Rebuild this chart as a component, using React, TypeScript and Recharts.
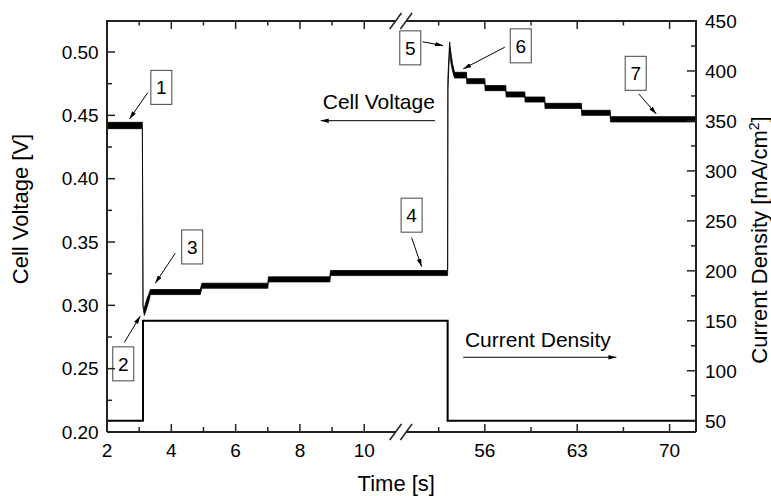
import React from 'react';
import { ComposedChart, Line, Area, XAxis, YAxis, ReferenceLine, ReferenceDot } from 'recharts';

const FONT = '"Liberation Sans", Arial, Helvetica, sans-serif';
const INK = '#000';
const AXIS = '#222';

// layout of the plotting frame (pixels)
const CHART_W = 771;
const CHART_H = 496;
const FRAME_TOP = 21;
const FRAME_LEFT_W = 107;
const FRAME_RIGHT_W = 75;
const FRAME_BOTTOM_H = 64;
const PLOT_H = CHART_H - FRAME_TOP - FRAME_BOTTOM_H;
const PLOT_W = CHART_W - FRAME_LEFT_W - FRAME_RIGHT_W;

// ---- broken time axis -------------------------------------------------
const BREAK_LEFT_END = 11.14;     // last time of the first segment
const BREAK_RIGHT_START = 49.64;  // first time of the second segment
const RIGHT_COMPRESSION = 0.4104; // second segment is drawn compressed
const toU = (t: number) =>
  t <= BREAK_LEFT_END ? t : BREAK_LEFT_END + (t - BREAK_RIGHT_START) * RIGHT_COMPRESSION;

const timeDomain = [2, 72];
const timeMajorLeft = [2, 4, 6, 8, 10];
const timeMinorLeft = [3, 5, 7, 9];
const timeMajorRight = [56, 63, 70];
const timeMinorRight = [52.5, 59.5, 66.5];

const voltageDomain = [0.2, 0.5245];
const voltageMajor = [0.2, 0.25, 0.3, 0.35, 0.4, 0.45, 0.5];
const voltageMinor = [0.225, 0.275, 0.325, 0.375, 0.425, 0.475];

const currentDomain = [38.7, 450];
const currentMajor = [50, 100, 150, 200, 250, 300, 350, 400, 450];
const currentMinor = [75, 125, 175, 225, 275, 325, 375, 425];

// ---- cell voltage envelope (time, min, max) ---------------------------
const voltTime = [2.0, 3.10, 3.12, 3.16, 3.24, 3.30, 3.35, 4.90, 4.95, 7.00, 7.02, 8.93, 8.95,
  53.16, 53.18, 53.20, 53.33, 53.42, 53.55, 53.70, 54.61, 54.63, 56.0, 56.02, 57.59, 57.61,
  59.03, 59.05, 60.54, 60.56, 63.32, 63.34, 65.5, 65.52, 72.0];
const voltMin = [0.4395, 0.4395, 0.299, 0.292, 0.298, 0.303, 0.3085, 0.3085, 0.3135, 0.3135, 0.3185, 0.3185, 0.3235,
  0.3235, 0.325, 0.47, 0.503, 0.492, 0.485, 0.4795, 0.4795, 0.475, 0.475, 0.4695, 0.4695, 0.4645,
  0.4645, 0.4605, 0.4605, 0.4555, 0.4555, 0.45, 0.45, 0.4448, 0.4448];
const voltMax = [0.4445, 0.4445, 0.299, 0.298, 0.305, 0.309, 0.3125, 0.3125, 0.3175, 0.3175, 0.3225, 0.3225, 0.3275,
  0.3275, 0.330, 0.48, 0.508, 0.500, 0.491, 0.484, 0.484, 0.479, 0.479, 0.4735, 0.4735, 0.4685,
  0.4685, 0.4645, 0.4645, 0.4595, 0.4595, 0.454, 0.454, 0.449, 0.449];

// ---- current density --------------------------------------------------
const currTime = [2, 3.12, 3.12, 53.18, 53.18, 72];
const currValue = [50, 50, 150, 150, 50, 50];

// ---- numbered annotations (box centre + arrow), in time / voltage -----
const boxLabels = ['1', '2', '3', '4', '5', '6', '7'];
const boxTime = [3.69, 2.506, 4.65, 50.45, 50.35, 58.72, 67.43];
const boxVolt = [0.4721, 0.2538, 0.3461, 0.3712, 0.5033, 0.5049, 0.4832];
const arrowFromTime = [3.26, 2.537, 4.121, 50.45, 51.28, 57.51, 67.67];
const arrowFromVolt = [0.4677, 0.2707, 0.3411, 0.3535, 0.5081, 0.5038, 0.4669];
const arrowToTime = [2.70, 3.034, 3.5, 51.21, 52.84, 54.36, 68.99];
const arrowToVolt = [0.4471, 0.2915, 0.3174, 0.3305, 0.5051, 0.4867, 0.4511];

const seriesLabels = ['Cell Voltage', 'Current Density'];
const seriesLabelTime = [8.71, 54.49];
const seriesLabelVolt = [0.4553, 0.2675];
const seriesArrowFromTime = [52.22, 54.36];
const seriesArrowToTime = [8.646, 65.97];
const seriesArrowVolt = [0.4458, 0.2590];

// ---- derived tables -----------------------------------------------------
const voltageData = voltTime.map((t, i) => ({ u: toU(t), band: [voltMin[i], voltMax[i]] }));
const currentData = currTime.map((t, i) => ({ u: toU(t), j: currValue[i] }));

const U_MIN = toU(timeDomain[0]);
const U_MAX = toU(timeDomain[1]);
const PX_PER_U = PLOT_W / (U_MAX - U_MIN);

const BREAK_U = BREAK_LEFT_END;
const timeTicksU = [
  ...timeMajorLeft, ...timeMinorLeft, ...timeMajorRight, ...timeMinorRight,
].map(toU).concat([BREAK_U]).sort((a, b) => a - b);

const near = (a: number, b: number) => Math.abs(a - b) < 1e-6;
function timeTickInfo(u: number) {
  if (near(u, BREAK_U)) return { brk: true, major: false, label: '' };
  for (const t of [...timeMajorLeft, ...timeMajorRight]) if (near(toU(t), u)) return { brk: false, major: true, label: String(t) };
  return { brk: false, major: false, label: '' };
}
const isMajorV = (v: number) => voltageMajor.some((m) => near(m, v));
const isMajorC = (v: number) => currentMajor.some((m) => near(m, v));

// ---- tick renderers -------------------------------------------------------
function BreakMark({ x, y }: { x: number; y: number }) {
  const h = 8, w = 5.85, off = 5.3;
  return (
    <g>
      <polygon
        points={`${x - off - w},${y + h} ${x - off + w},${y - h} ${x + off + w},${y - h} ${x + off - w},${y + h}`}
        fill="#fff"
      />
      <line x1={x - off - w} y1={y + h} x2={x - off + w} y2={y - h} stroke={AXIS} strokeWidth={1.5} />
      <line x1={x + off - w} y1={y + h} x2={x + off + w} y2={y - h} stroke={AXIS} strokeWidth={1.5} />
    </g>
  );
}

// top frame (line + inward ticks), positioned relative to the break tick of the bottom axis
function TopFrame({ xBreak, y }: { xBreak: number; y: number }) {
  const off = 5.3;
  const xLeft = xBreak - (BREAK_U - U_MIN) * PX_PER_U;
  const xRight = xBreak + (U_MAX - BREAK_U) * PX_PER_U;
  return (
    <g>
      <line x1={xLeft - 1} y1={y} x2={xBreak - off} y2={y} stroke={AXIS} strokeWidth={2} />
      <line x1={xBreak + off} y1={y} x2={xRight + 1} y2={y} stroke={AXIS} strokeWidth={2} />
      {timeTicksU.filter((u) => !near(u, BREAK_U)).map((u) => {
        const info = timeTickInfo(u);
        const xu = xBreak + (u - BREAK_U) * PX_PER_U;
        return (
          <line key={u} x1={xu} y1={y} x2={xu} y2={y + (info.major ? 8 : 4.5)} stroke={AXIS} strokeWidth={1.5} />
        );
      })}
    </g>
  );
}

const BottomTick = (p: any) => {
  const u = p.payload.value;
  const info = timeTickInfo(u);
  if (info.brk) {
    const yTop = p.y - PLOT_H;
    return (
      <g>
        <BreakMark x={p.x} y={p.y} />
        <TopFrame xBreak={p.x} y={yTop} />
        <BreakMark x={p.x} y={yTop} />
      </g>
    );
  }
  const len = info.major ? 8 : 5;
  return (
    <g>
      <line x1={p.x} y1={p.y} x2={p.x} y2={p.y - len} stroke={AXIS} strokeWidth={1.5} />
      {info.major && (
        <text x={p.x} y={p.y + 25.3} textAnchor="middle" fontSize={19} fontFamily={FONT} fill={INK}>
          {info.label}
        </text>
      )}
    </g>
  );
};

const LeftTick = (p: any) => {
  const v = p.payload.value;
  const major = isMajorV(v);
  return (
    <g>
      <line x1={p.x} y1={p.y} x2={p.x + (major ? 8 : 5)} y2={p.y} stroke={AXIS} strokeWidth={1.5} />
      {major && (
        <text x={p.x - 8.3} y={p.y + 6.8} textAnchor="end" fontSize={19} fontFamily={FONT} fill={INK}>
          {v.toFixed(2)}
        </text>
      )}
    </g>
  );
};

const RightTick = (p: any) => {
  const v = p.payload.value;
  const major = isMajorC(v);
  return (
    <g>
      <line x1={p.x} y1={p.y} x2={p.x - (major ? 9 : 5)} y2={p.y} stroke={AXIS} strokeWidth={1.5} />
      {major && (
        <text x={p.x + 9} y={p.y + 6.8} textAnchor="start" fontSize={19} fontFamily={FONT} fill={INK}>
          {String(v)}
        </text>
      )}
    </g>
  );
};

const arrowLine = (p: any) => (
  <g>
    <line x1={p.x1} y1={p.y1} x2={p.x2} y2={p.y2} stroke={INK} strokeWidth={1} markerEnd="url(#arrowHead)" />
  </g>
);

export default function App() {
  return (
    <div style={{ position: 'absolute', left: 0, top: 0, width: CHART_W, height: CHART_H, background: '#fff' }}>
      <svg width={0} height={0} style={{ position: 'absolute' }}>
        <defs>
          <marker id="arrowHead" viewBox="0 0 10 10" refX="10" refY="5" markerWidth="8" markerHeight="4.5"
            markerUnits="userSpaceOnUse" orient="auto" preserveAspectRatio="none">
            <path d="M0,0 L10,5 L0,10 z" fill={INK} />
          </marker>
        </defs>
      </svg>
      <ComposedChart width={CHART_W} height={CHART_H} margin={{ top: FRAME_TOP, right: 0, bottom: 0, left: 0 }}>
        <XAxis
          xAxisId="b" type="number" dataKey="u" domain={[U_MIN, U_MAX]} allowDataOverflow
          ticks={timeTicksU} interval={0} tick={BottomTick} tickLine={false} tickSize={0} tickMargin={0}
          axisLine={{ stroke: AXIS, strokeWidth: 2 }} height={FRAME_BOTTOM_H}
          label={() => (
            <text x={396.3} y={490.5} textAnchor="middle" fontSize={22} fontFamily={FONT} fill={INK}>Time [s]</text>
          )}
        />
        <YAxis
          yAxisId="v" type="number" domain={voltageDomain} allowDataOverflow
          ticks={[...voltageMajor, ...voltageMinor].sort((a, b) => a - b)} interval={0}
          tick={LeftTick} tickLine={false} tickSize={0} tickMargin={0}
          axisLine={{ stroke: AXIS, strokeWidth: 2 }} width={FRAME_LEFT_W}
          label={() => (
            <text x={28} y={209} transform="rotate(-90 28 209)" textAnchor="middle" fontSize={22} fontFamily={FONT} fill={INK}>
              Cell Voltage [V]
            </text>
          )}
        />
        <YAxis
          yAxisId="c" orientation="right" type="number" domain={currentDomain} allowDataOverflow
          ticks={[...currentMajor, ...currentMinor].sort((a, b) => a - b)} interval={0}
          tick={RightTick} tickLine={false} tickSize={0} tickMargin={0}
          axisLine={{ stroke: AXIS, strokeWidth: 2 }} width={FRAME_RIGHT_W}
          label={() => (
            <text x={767} y={240} transform="rotate(-90 767 240)" textAnchor="middle" fontSize={22} fontFamily={FONT} fill={INK}>
              Current Density [mA/cm<tspan baselineShift="super" fontSize={14}>2</tspan>]
            </text>
          )}
        />
        <Area
          xAxisId="b" yAxisId="v" data={voltageData} dataKey="band" type="linear"
          stroke={INK} strokeWidth={0.8} fill={INK} fillOpacity={1}
          dot={false} activeDot={false} isAnimationActive={false}
        />
        <Line
          xAxisId="b" yAxisId="c" data={currentData} dataKey="j" type="linear"
          stroke={INK} strokeWidth={2} dot={false} activeDot={false} isAnimationActive={false}
        />
        {boxLabels.map((_, i) => (
          <ReferenceLine
            key={'a' + i} xAxisId="b" yAxisId="v" ifOverflow="visible"
            segment={[{ x: toU(arrowFromTime[i]), y: arrowFromVolt[i] }, { x: toU(arrowToTime[i]), y: arrowToVolt[i] }]}
            shape={arrowLine}
          />
        ))}
        {seriesLabels.map((_, i) => (
          <ReferenceLine
            key={'sa' + i} xAxisId="b" yAxisId="v" ifOverflow="visible"
            segment={[{ x: toU(seriesArrowFromTime[i]), y: seriesArrowVolt[i] }, { x: toU(seriesArrowToTime[i]), y: seriesArrowVolt[i] }]}
            shape={arrowLine}
          />
        ))}
        {boxLabels.map((lab, i) => (
          <ReferenceDot
            key={'b' + i} xAxisId="b" yAxisId="v" ifOverflow="visible"
            x={toU(boxTime[i])} y={boxVolt[i]} r={0}
            shape={(p: any) => (
              <g>
                <rect x={p.cx - 10.5} y={p.cy - 17} width={21} height={34} fill="#fff" stroke="#444" strokeWidth={1} />
                <text x={p.cx} y={p.cy + 6.8} textAnchor="middle" fontSize={19} fontFamily={FONT} fill={INK}>{lab}</text>
              </g>
            )}
          />
        ))}
        {seriesLabels.map((lab, i) => (
          <ReferenceDot
            key={'s' + i} xAxisId="b" yAxisId="v" ifOverflow="visible"
            x={toU(seriesLabelTime[i])} y={seriesLabelVolt[i]} r={0}
            shape={(p: any) => (
              <text x={p.cx} y={p.cy} textAnchor="start" fontSize={21} fontFamily={FONT} fill={INK}>{lab}</text>
            )}
          />
        ))}
      </ComposedChart>
    </div>
  );
}
